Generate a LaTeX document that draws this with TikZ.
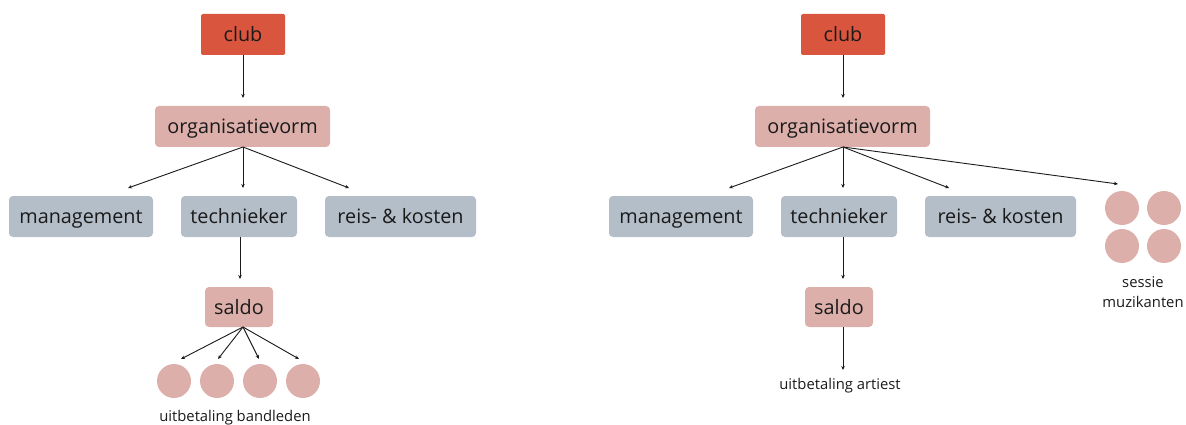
\documentclass[tikz,border=0pt]{standalone}
\usepackage{fontspec}
\setmainfont{Open Sans}
\usetikzlibrary{arrows.meta}
\definecolor{clubred}{HTML}{D9553E}
\definecolor{pinkbox}{HTML}{DDAFAA}
\definecolor{greybox}{HTML}{B4BEC8}
\definecolor{txt}{HTML}{1A1A1A}
\tikzset{
  box/.style={rounded corners=4pt, inner sep=0pt, text=txt, font=\fontsize{19.8}{22}\selectfont, text height=14.5pt, text depth=0.5pt},
  clubbox/.style={box, fill=clubred, rounded corners=1.5pt, minimum width=84pt, minimum height=41pt},
  orgbox/.style={box, fill=pinkbox, minimum width=175pt, minimum height=41pt},
  rolebox/.style={box, fill=greybox, minimum height=41pt},
  saldobox/.style={box, fill=pinkbox, minimum width=68pt, minimum height=40pt},
  dot/.style={circle, fill=pinkbox, minimum size=34pt, inner sep=0pt},
  lbl/.style={text=txt, font=\fontsize{14.8}{20}\selectfont, inner sep=0pt, align=center},
  conn/.style={draw=txt, line width=0.9pt, -{Stealth[length=4pt,width=3.5pt]}}
}
\begin{document}
\begin{tikzpicture}[x=1pt,y=-1pt]
\useasboundingbox (0,0) rectangle (1186,425);
% ---------- left tree ----------
\node[clubbox] (c1) at (243,34.5) {club};
\node[orgbox] (o1) at (242.5,126.5) {organisatievorm};
\node[rolebox, minimum width=144pt] (m1) at (81,216.5) {management};
\node[rolebox, minimum width=116pt] (t1) at (239,216.5) {technieker};
\node[rolebox, minimum width=151pt] (r1) at (400.5,216.5) {reis- \& kosten};
\node[saldobox] (s1) at (239,307) {saldo};
\node[dot] (d1) at (174,381) {};
\node[dot] (d2) at (217,381) {};
\node[dot] (d3) at (260,381) {};
\node[dot] (d4) at (303,381) {};
\node[lbl] (u1) at (235,418) {uitbetaling bandleden};
\coordinate (o1b) at (243,147);
\coordinate (a1) at (128,188);
\coordinate (a2) at (243,188);
\coordinate (a3) at (349,188);
\coordinate (t1b) at (240,237);
\coordinate (s1t) at (240,279);
\coordinate (s1b) at (243,327);
\coordinate (b1) at (181,359);
\coordinate (b2) at (218,359);
\coordinate (b3) at (259,359);
\coordinate (b4) at (299,359);
\coordinate (c1b) at (243,55);
\coordinate (o1t) at (243,98);
\draw[conn] (c1b) -- (o1t);
\draw[conn] (o1b) -- (a1);
\draw[conn] (o1b) -- (a2);
\draw[conn] (o1b) -- (a3);
\draw[conn] (t1b) -- (s1t);
\draw[conn] (s1b) -- (b1);
\draw[conn] (s1b) -- (b2);
\draw[conn] (s1b) -- (b3);
\draw[conn] (s1b) -- (b4);
% ---------- right tree ----------
\node[clubbox] (c2) at (843,34.5) {club};
\node[orgbox] (o2) at (842.5,126.5) {organisatievorm};
\node[rolebox, minimum width=144pt] (m2) at (681,216.5) {management};
\node[rolebox, minimum width=116pt] (t2) at (839,216.5) {technieker};
\node[rolebox, minimum width=151pt] (r2) at (1000.5,216.5) {reis- \& kosten};
\node[saldobox] (s2) at (839,307) {saldo};
\node[lbl] (u2) at (840,386) {uitbetaling artiest};
\node[dot] (e1) at (1122,208) {};
\node[dot] (e2) at (1164,208) {};
\node[dot] (e3) at (1122,246) {};
\node[dot] (e4) at (1164,246) {};
\node[lbl] (sm) at (1143,292) {sessie\\muzikanten};
\coordinate (c2b) at (843,55);
\coordinate (o2t) at (843,98);
\coordinate (o2b) at (843,147);
\coordinate (f1) at (729,188);
\coordinate (f2) at (843,188);
\coordinate (f3) at (949,188);
\coordinate (f4) at (1118,184);
\coordinate (t2b) at (843,237);
\coordinate (s2t) at (843,279);
\coordinate (s2b) at (843,327);
\coordinate (g1) at (843,370);
\draw[conn] (c2b) -- (o2t);
\draw[conn] (o2b) -- (f1);
\draw[conn] (o2b) -- (f2);
\draw[conn] (o2b) -- (f3);
\draw[conn] (o2b) -- (f4);
\draw[conn] (t2b) -- (s2t);
\draw[conn] (s2b) -- (g1);
\end{tikzpicture}
\end{document}
